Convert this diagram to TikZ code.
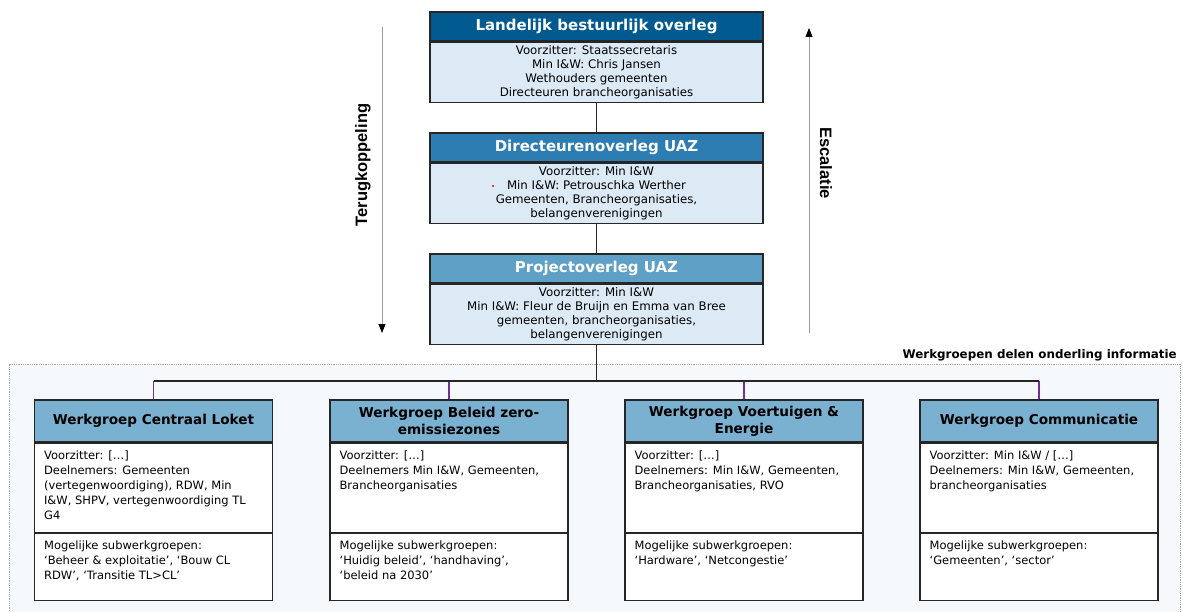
\documentclass[tikz,border=0pt]{standalone}
\usepackage{fontspec}
\setmainfont{DejaVu Sans}
\newfontfamily\lblfont{Liberation Sans}
\usetikzlibrary{arrows.meta}

\definecolor{hdrdark}{HTML}{005A8F}
\definecolor{hdrmid}{HTML}{2E7DB2}
\definecolor{hdrlight}{HTML}{5EA0C6}
\definecolor{infoblue}{HTML}{DCEAF6}
\definecolor{wghead}{HTML}{7AB0D0}
\definecolor{zonefill}{HTML}{F5F9FC}
\definecolor{linkpurple}{HTML}{7030A0}

\begin{document}
\begin{tikzpicture}[x=1pt, y=-1pt,
      hdr/.style={draw=black!85, line width=1.2pt, minimum width=333, minimum height=29,
                  inner sep=0, text=white, font=\bfseries\fontsize{15}{17}\selectfont},
      info/.style={draw=black!85, line width=1.2pt, fill=infoblue, minimum width=333,
                   minimum height=60, inner sep=0, anchor=north, align=center,
                   font=\fontsize{11.8}{14.2}\selectfont},
      wghd/.style={draw=black!85, line width=1.2pt, fill=wghead, minimum width=238,
                   minimum height=42, inner sep=0, align=center,
                   font=\bfseries\fontsize{13.6}{17}\selectfont},
      wgbox/.style={draw=black!85, line width=1.2pt, fill=white, minimum width=238,
                    inner sep=0, anchor=north},
      wtxt/.style={anchor=north west, inner sep=0, align=left, font=\fontsize{11.5}{15}\selectfont},
      side/.style={font=\lblfont\bfseries\fontsize{16.5}{18}\selectfont},
      feed/.style={draw=gray!80, line width=0.8pt, -{Triangle[color=black, length=9pt, width=7pt]}},
      link/.style={draw=black!85, line width=1.4pt},
      drop/.style={draw=linkpurple, line width=1.1pt}]

    \useasboundingbox (0,0) rectangle (1183,612);
    \fill[white] (0,0) rectangle (1183,612);

    % === werkgroepen zone ===
    \fill[zonefill] (9,364) rectangle (1180,620);
    \draw[gray!70, densely dotted, line width=0.8pt] (9,620) -- (9,364) -- (1180,364) -- (1180,620);
    \node[anchor=base east, inner sep=0, font=\bfseries\fontsize{11.9}{13}\selectfont] (zonelbl) at (1177,358)
        {Werkgroepen delen onderling informatie};

    % === Landelijk bestuurlijk overleg ===
    \node[hdr, fill=hdrdark] (lbo) at (596.5,26.5) {Landelijk bestuurlijk overleg};
    \node[info] (lboinfo) at (lbo.south) {Voorzitter: Staatssecretaris\\Min I\&W: Chris Jansen\\
        Wethouders gemeenten\\Directeuren brancheorganisaties};

    % === Directeurenoverleg UAZ ===
    \node[hdr, fill=hdrmid] (dir) at (596.5,147.5) {Directeurenoverleg UAZ};
    \node[info] (dirinfo) at (dir.south) {Voorzitter: Min I\&W\\Min I\&W: Petrouschka Werther\\
        Gemeenten, Brancheorganisaties,\\belangenverenigingen};
    \fill[red] (493,186) circle (1.2);

    % === Projectoverleg UAZ ===
    \node[hdr, fill=hdrlight] (proj) at (596.5,268.5) {Projectoverleg UAZ};
    \node[info] (projinfo) at (proj.south) {Voorzitter: Min I\&W\\Min I\&W: Fleur de Bruijn en Emma van Bree\\
        gemeenten, brancheorganisaties,\\belangenverenigingen};

    \draw[link] (lboinfo.south) -- (dir.north);
    \draw[link] (dirinfo.south) -- (proj.north);

    % === Terugkoppeling / Escalatie ===
    \coordinate (fbtop) at (382,27);
    \coordinate (fbbot) at (382,333);
    \coordinate (estop) at (809,28);
    \coordinate (esbot) at (809,333);
    \draw[feed] (fbtop) -- (fbbot);
    \draw[feed] (esbot) -- (estop);
    \node[side, rotate=90] (fblbl) at (363,165) {Terugkoppeling};
    \node[side, rotate=-90] (eslbl) at (826,163) {Escalatie};

    % === Werkgroep Centraal Loket ===
    \node[wghd] (wgcl) at (153.5,421) {Werkgroep Centraal Loket};
    \node[wgbox, minimum height=89] (wgcldn) at (wgcl.south) {};
    \node[wgbox, minimum height=67] (wgclsub) at (wgcldn.south) {};
    \node[wtxt] (wgcltxt) at ([xshift=10pt, yshift=-8pt]wgcldn.north west)
        {Voorzitter: […]\\Deelnemers: Gemeenten\\(vertegenwoordiging), RDW, Min\\
         I\&W, SHPV, vertegenwoordiging TL\\G4};
    \node[wtxt] (wgclsubtxt) at ([xshift=10pt, yshift=-8pt]wgclsub.north west)
        {Mogelijke subwerkgroepen:\\‘Beheer \& exploitatie’, ‘Bouw CL\\RDW’, ‘Transitie TL>CL’};

    % === Werkgroep Beleid zero-emissiezones ===
    \node[wghd] (wgzez) at (449,421) {Werkgroep Beleid zero-\\emissiezones};
    \node[wgbox, minimum height=89] (wgzezdn) at (wgzez.south) {};
    \node[wgbox, minimum height=67] (wgzezsub) at (wgzezdn.south) {};
    \node[wtxt] (wgzeztxt) at ([xshift=10pt, yshift=-8pt]wgzezdn.north west)
        {Voorzitter: […]\\Deelnemers Min I\&W, Gemeenten,\\Brancheorganisaties};
    \node[wtxt] (wgzezsubtxt) at ([xshift=10pt, yshift=-8pt]wgzezsub.north west)
        {Mogelijke subwerkgroepen:\\‘Huidig beleid’, ‘handhaving’,\\‘beleid na 2030’};

    % === Werkgroep Voertuigen & Energie ===
    \node[wghd] (wgve) at (744,421) {Werkgroep Voertuigen \&\\Energie};
    \node[wgbox, minimum height=89] (wgvedn) at (wgve.south) {};
    \node[wgbox, minimum height=67] (wgvesub) at (wgvedn.south) {};
    \node[wtxt] (wgvetxt) at ([xshift=10pt, yshift=-8pt]wgvedn.north west)
        {Voorzitter: […]\\Deelnemers: Min I\&W, Gemeenten,\\Brancheorganisaties, RVO};
    \node[wtxt] (wgvesubtxt) at ([xshift=10pt, yshift=-8pt]wgvesub.north west)
        {Mogelijke subwerkgroepen:\\‘Hardware’, ‘Netcongestie’};

    % === Werkgroep Communicatie ===
    \node[wghd] (wgcom) at (1039,421) {Werkgroep Communicatie};
    \node[wgbox, minimum height=89] (wgcomdn) at (wgcom.south) {};
    \node[wgbox, minimum height=67] (wgcomsub) at (wgcomdn.south) {};
    \node[wtxt] (wgcomtxt) at ([xshift=10pt, yshift=-8pt]wgcomdn.north west)
        {Voorzitter: Min I\&W / […]\\Deelnemers: Min I\&W, Gemeenten,\\brancheorganisaties};
    \node[wtxt] (wgcomsubtxt) at ([xshift=10pt, yshift=-8pt]wgcomsub.north west)
        {Mogelijke subwerkgroepen:\\‘Gemeenten’, ‘sector’};

    % === verbindingen werkgroepen ===
    \coordinate (bus) at (596.5,381);
    \draw[link] (projinfo.south) -- (bus);
    \draw[drop] (wgcl.north |- bus) -- (wgcl.north);
    \draw[drop] (wgzez.north |- bus) -- (wgzez.north);
    \draw[drop] (wgve.north |- bus) -- (wgve.north);
    \draw[drop] (wgcom.north |- bus) -- (wgcom.north);
    \draw[link, line width=1.8pt] (wgcl.north |- bus) -- (wgcom.north |- bus);

\end{tikzpicture}
\end{document}
